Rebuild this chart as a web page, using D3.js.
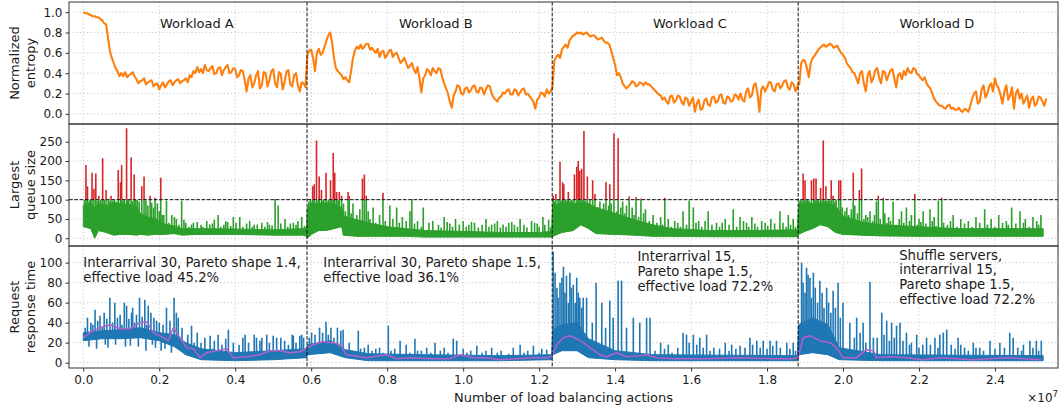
<!DOCTYPE html>
<html><head><meta charset="utf-8">
<script src="https://cdn.jsdelivr.net/npm/d3@7"></script>
<style>
body{margin:0;background:#fff}
text{font-family:"DejaVu Sans",sans-serif;fill:#1a1a1a}
</style></head>
<body><svg id="c" width="1060" height="412"></svg>
<script>
// ---------------- DATA ----------------
const xTicks = [0,0.2,0.4,0.6,0.8,1.0,1.2,1.4,1.6,1.8,2.0,2.2,2.4];
const entTicks = [0,0.2,0.4,0.6,0.8,1.0];
const queueTicks = [0,50,100,150,200,250];
const respTicks = [0,20,40,60,80,100];
const boundaries = [0.589,1.2345,1.882];
const queueThreshold = 100;
const workloadNames = ["Workload A","Workload B","Workload C","Workload D"];
const workloadLabelX = [0.299,0.928,1.597,2.247];
const annotations = [
  ["Interarrival 30, Pareto shape 1.4,","effective load 45.2%"],
  ["Interarrival 30, Pareto shape 1.5,","effective load 36.1%"],
  ["Interarrival 15,","Pareto shape 1.5,","effective load 72.2%"],
  ["Shuffle servers,","interarrival 15,","Pareto shape 1.5,","effective load 72.2%"]
];
const annotationX = [0.0,0.632,1.459,2.148];
const annotationY = [100,100,106,107.7];

// normalized entropy: samples every 0.01e7 actions, plus the value read half-way between samples
const entropyStep = 0.01;
const entropy = [
 1.00,0.99,0.97,0.96,0.95,0.92,0.88,0.62,0.50,0.42,
 0.40,0.41,0.38,0.41,
 0.34,0.32,0.35,0.31,0.33,0.29,0.24,0.31,
 0.29,0.33,0.31,0.34,0.32,0.35,
 0.38,0.42,0.46,
 0.44,0.48,0.42,0.47,0.40,0.46,0.43,0.48,0.41,
 0.44,0.38,0.42,0.22,
 0.38,0.30,0.42,0.28,0.40,0.33,0.44,0.26,0.39,0.31,0.43,0.27,0.40,
 0.22,0.30,
 0.58,0.63,0.42,0.64,0.60,0.72,0.80,0.55,0.42,0.38,0.36,0.31,0.55,0.66,
 0.68,0.66,0.69,0.65,0.60,0.56,0.62,0.58,0.63,0.59,
 0.55,0.52,0.50,0.47,0.44,0.46,0.21,0.38,0.42,0.45,0.40,0.44,0.30,0.20,0.06,
 0.22,0.27,0.19,0.26,0.23,0.28,0.21,0.25,0.24,0.27,
 0.16,0.12,0.17,0.20,0.24,0.19,0.23,0.21,0.25,0.20,0.15,0.05,0.16,0.20,0.24,0.22,
 0.52,0.58,0.63,0.68,0.72,0.77,0.80,
 0.80,0.79,0.78,0.77,0.75,0.74,0.72,0.70,0.62,0.48,0.40,0.30,0.25,
 0.29,0.31,0.28,0.30,0.31,0.29,0.25,0.21,0.18,
 0.16,0.10,0.18,0.13,0.17,0.09,0.15,0.12,0.02,0.14,0.05,
 0.15,0.08,0.17,0.12,0.19,0.10,0.16,0.13,0.18,
 0.20,0.12,0.25,0.18,0.30,0.02,0.27,
 0.26,0.31,0.22,0.30,0.28,0.33,0.24,0.29,0.27,
 0.50,0.52,0.36,0.55,0.60,0.65,0.68,0.67,0.68,0.66,0.63,0.58,0.50,0.45,0.40,
 0.30,0.42,0.22,0.42,0.35,0.45,0.30,0.41,0.38,0.44,0.26,0.40,
 0.42,0.45,0.40,0.44,0.38,0.33,0.30,0.25,0.15,0.10,
 0.08,0.05,0.09,0.06,0.04,0.03,0.05,0.02,
 0.15,0.22,0.12,0.28,0.20,0.30,0.35,
 0.25,0.10,0.28,0.18,0.05,0.24,0.20,
 0.14,0.06,0.17,0.10,0.16,0.08
];
const entropyMid = [
 0.99,0.98,0.96,0.95,0.93,0.89,0.75,0.55,0.45,0.37,
 0.37,0.36,0.39,0.37,
 0.30,0.33,0.29,0.32,0.27,0.30,0.28,0.26,
 0.32,0.28,0.33,0.30,0.33,0.31,
 0.36,0.40,0.41,
 0.40,0.43,0.45,0.39,0.45,0.38,0.46,0.40,0.45,
 0.36,0.43,0.33,0.35,
 0.26,0.38,0.25,0.41,0.27,0.42,0.30,0.41,0.24,0.42,0.29,0.38,0.28,
 0.31,0.26,
 0.62,0.55,0.60,0.58,0.66,0.77,0.70,0.45,0.40,0.34,0.33,0.42,0.62,0.64,
 0.64,0.69,0.63,0.62,0.64,0.61,0.55,0.62,0.56,0.60,
 0.50,0.55,0.45,0.50,0.40,0.35,0.35,0.44,0.38,0.42,0.45,0.36,0.25,0.12,0.18,
 0.28,0.20,0.25,0.21,0.27,0.22,0.26,0.19,0.28,0.20,
 0.14,0.16,0.21,0.23,0.19,0.24,0.18,0.24,0.19,0.17,0.12,0.14,0.21,0.17,0.20,0.26,
 0.56,0.55,0.66,0.65,0.75,0.78,0.79,
 0.78,0.80,0.76,0.77,0.73,0.75,0.70,0.68,0.55,0.38,0.36,0.27,0.27,
 0.32,0.27,0.31,0.28,0.29,0.27,0.23,0.19,0.14,
 0.12,0.17,0.11,0.18,0.12,0.16,0.08,0.16,0.10,0.04,0.13,
 0.09,0.16,0.11,0.18,0.11,0.17,0.12,0.19,0.14,
 0.14,0.22,0.16,0.28,0.20,0.24,0.22,
 0.31,0.24,0.29,0.25,0.32,0.26,0.31,0.22,0.30,
 0.53,0.45,0.50,0.57,0.63,0.67,0.66,0.69,0.65,0.67,0.60,0.55,0.47,0.41,0.35,
 0.40,0.30,0.38,0.31,0.43,0.36,0.42,0.33,0.43,0.35,0.38,0.34,
 0.38,0.41,0.45,0.39,0.35,0.36,0.27,0.20,0.12,0.08,
 0.06,0.08,0.05,0.04,0.06,0.02,0.04,0.08,
 0.20,0.10,0.24,0.16,0.27,0.22,0.28,
 0.18,0.22,0.14,0.26,0.20,0.15,0.10,
 0.18,0.14,0.08,0.17,0.12,0.15
];

// largest queue size: dense band (lower / upper edge) and spikes
const queueBandX = [0,0.02,0.03,0.04,0.06,0.08,0.10,0.12,0.14,0.15,0.17,0.19,0.21,0.24,0.26,0.30,0.40,0.50,0.58,0.588,
 0.590,0.60,0.62,0.64,0.66,0.68,0.685,0.72,0.76,0.80,0.85,0.90,1.00,1.10,1.20,1.233,
 1.236,1.26,1.29,1.31,1.33,1.35,1.40,1.45,1.50,1.55,1.65,1.75,1.88,
 1.883,1.90,1.92,1.94,1.96,1.98,2.00,2.05,2.10,2.20,2.30,2.40,2.527];
const queueBandLo = [30,25,0,20,15,8,10,10,8,10,8,10,10,12,8,10,10,8,8,5,
 0,10,20,20,25,30,8,5,5,5,5,3,3,3,3,3,
 5,15,20,35,25,12,10,8,5,5,4,4,4,
 10,18,25,35,30,15,10,8,6,5,5,5,5];
const queueBandTop = [85,92,80,90,85,92,90,88,82,65,55,50,38,32,25,25,24,22,25,28,
 80,92,90,92,90,80,58,48,38,30,25,20,18,15,15,18,
 85,92,90,92,90,80,65,48,35,25,20,20,22,
 85,92,90,92,90,85,58,42,35,30,25,25,25];
const queueSpikes = [
 [0.003,99],[0.007,190],[0.011,135],[0.016,98],[0.019,99],[0.023,170],[0.028,128],[0.033,168],[0.037,97],[0.041,110],[0.046,99],[0.051,207],
 [0.055,99],[0.060,125],[0.066,99],[0.069,96],[0.073,110],[0.078,98],[0.082,99],[0.087,95],[0.092,177],[0.098,145],[0.101,190],[0.105,97],
 [0.108,99],[0.114,285],[0.117,98],[0.120,99],[0.126,210],[0.130,96],[0.134,165],[0.138,99],[0.142,99],[0.147,95],[0.154,135],[0.160,160],
 [0.165,98],[0.170,85],[0.176,110],[0.180,92],[0.185,80],[0.189,105],[0.195,90],[0.200,70],[0.204,157],[0.208,60],[0.212,60],[0.219,97],
 [0.225,40],[0.233,60],[0.240,55],[0.245,50],[0.252,35],[0.259,97],[0.265,48],[0.27,40],[0.278,30],[0.285,36],[0.29,40],[0.30,42],
 [0.31,35],[0.315,30],[0.325,45],[0.333,36],[0.34,38],[0.345,48],[0.355,60],[0.362,30],[0.37,35],[0.375,44],[0.38,42],[0.388,32],
 [0.395,55],[0.402,40],[0.412,55],[0.42,30],[0.43,38],[0.438,45],[0.445,30],[0.45,35],[0.458,36],[0.47,40],[0.478,30],[0.485,42],
 [0.49,35],[0.497,33],[0.505,102],[0.513,85],[0.52,38],[0.531,50],[0.538,30],[0.545,38],[0.553,40],[0.56,35],[0.565,45],[0.575,55],[0.582,32],
 [0.594,95],[0.598,99],[0.604,135],[0.608,140],[0.614,253],[0.618,98],[0.621,160],[0.627,125],[0.630,97],[0.633,99],[0.639,170],[0.645,99],
 [0.648,96],[0.651,150],[0.655,99],[0.658,221],[0.662,170],[0.667,120],[0.671,98],[0.674,120],[0.680,110],[0.685,90],[0.69,70],[0.697,120],
 [0.700,110],[0.705,65],[0.71,90],[0.72,60],[0.728,75],[0.735,155],[0.740,165],[0.745,110],[0.75,70],[0.755,50],[0.763,80],[0.77,40],
 [0.78,60],[0.789,118],[0.795,45],[0.807,85],[0.815,50],[0.825,80],[0.832,40],[0.84,55],[0.85,45],[0.86,70],[0.865,102],[0.872,38],
 [0.88,45],[0.89,30],[0.895,80],[0.91,40],[0.92,45],[0.935,35],[0.942,28],[0.95,55],[0.958,42],[0.965,38],[0.972,30],[0.98,50],[0.99,36],
 [1.0,45],[1.008,30],[1.015,35],[1.022,42],[1.03,40],[1.04,28],[1.05,35],[1.06,50],[1.068,30],[1.075,35],[1.083,38],[1.09,45],[1.098,28],
 [1.105,36],[1.113,30],[1.12,40],[1.128,42],[1.135,35],[1.143,30],[1.15,50],[1.16,35],[1.168,28],[1.18,45],[1.188,40],[1.195,38],[1.2,30],
 [1.21,55],[1.215,35],[1.225,48],[1.23,28],
 [1.237,110],[1.241,96],[1.244,115],[1.250,99],[1.255,198],[1.258,97],[1.262,145],[1.265,140],[1.270,99],[1.274,98],[1.277,120],[1.281,97],
 [1.285,99],[1.289,98],[1.293,165],[1.299,185],[1.303,200],[1.307,175],[1.312,180],[1.315,98],[1.318,278],[1.322,97],[1.327,160],[1.334,99],
 [1.341,150],[1.347,115],[1.355,80],[1.36,95],[1.37,90],[1.376,145],[1.383,85],[1.386,140],[1.39,90],[1.397,272],[1.405,70],[1.408,259],
 [1.415,80],[1.42,95],[1.425,65],[1.43,85],[1.437,108],[1.445,80],[1.45,60],[1.455,107],[1.462,55],[1.468,103],[1.475,65],[1.48,75],
 [1.49,45],[1.50,60],[1.51,40],[1.52,55],[1.525,35],[1.531,105],[1.54,50],[1.548,30],[1.557,45],[1.565,40],[1.572,30],[1.579,70],
 [1.588,35],[1.595,98],[1.606,80],[1.613,40],[1.62,45],[1.628,30],[1.637,45],[1.645,70],[1.655,35],[1.667,40],[1.675,30],[1.682,40],
 [1.69,50],[1.7,35],[1.711,75],[1.72,30],[1.729,55],[1.738,45],[1.746,40],[1.752,30],[1.76,55],[1.768,38],[1.775,30],[1.786,45],
 [1.795,40],[1.802,32],[1.81,50],[1.82,38],[1.834,70],[1.842,40],[1.85,30],[1.856,60],[1.862,35],[1.869,50],[1.875,30],
 [1.885,95],[1.888,99],[1.892,97],[1.895,168],[1.900,150],[1.904,98],[1.907,99],[1.911,97],[1.917,150],[1.923,155],[1.926,98],[1.929,155],
 [1.932,97],[1.935,99],[1.941,130],[1.944,98],[1.948,253],[1.952,97],[1.955,135],[1.958,96],[1.962,99],[1.965,97],[1.969,150],[1.974,110],
 [1.978,95],[1.982,99],[1.989,150],[1.994,150],[1.998,80],[2.005,70],[2.01,80],[2.015,60],[2.022,75],[2.027,170],[2.031,85],[2.038,65],
 [2.043,125],[2.049,181],[2.055,50],[2.06,60],[2.065,55],[2.071,70],[2.078,45],[2.083,60],[2.088,95],[2.093,110],[2.098,50],[2.106,105],
 [2.11,65],[2.115,40],[2.12,55],[2.125,45],[2.132,95],[2.14,35],[2.148,50],[2.154,70],[2.16,40],[2.167,80],[2.175,45],[2.18,60],
 [2.189,115],[2.195,35],[2.2,50],[2.205,42],[2.211,70],[2.218,38],[2.229,75],[2.235,45],[2.24,55],[2.245,32],[2.251,98],[2.260,105],
 [2.265,40],[2.275,35],[2.283,45],[2.29,60],[2.30,30],[2.31,50],[2.32,38],[2.33,45],[2.34,30],[2.35,55],[2.36,40],[2.373,75],
 [2.38,35],[2.39,50],[2.40,30],[2.41,60],[2.42,40],[2.43,45],[2.435,35],[2.444,80],[2.455,38],[2.466,70],[2.475,40],[2.48,50],
 [2.49,30],[2.5,55],[2.51,45],[2.515,35],[2.521,60]
];

// request response time: dense band, spikes and smoothed curve
const respBandX = [0,0.05,0.10,0.15,0.20,0.24,0.27,0.31,0.40,0.50,0.588,
 0.59,0.65,0.69,0.75,0.90,1.10,1.233,
 1.236,1.26,1.30,1.33,1.40,1.50,1.88,
 1.883,1.92,1.96,1.99,2.10,2.527];
const respBandLo = [22,24,24,25,22,16,8,3,2,3,5, 8,10,5,2,2,2,3, 8,12,12,5,3,2,2, 8,10,8,3,2,2];
const respBandTop = [30,32,33,35,30,28,20,14,10,12,14, 18,22,13,9,8,7,8, 33,38,40,24,12,8,7, 38,45,38,15,8,7];
const respSpikes = [
 [0.005,35],[0.011,45],[0.015,16],[0.02,40],[0.025,38],[0.031,53],[0.035,14],[0.038,42],[0.044,47],[0.05,36],[0.055,50],[0.058,18],
 [0.062,44],[0.065,15],[0.07,65],[0.077,40],[0.083,60],[0.085,18],[0.09,45],[0.097,48],[0.102,38],[0.108,60],[0.111,16],[0.114,57],
 [0.12,44],[0.124,17],[0.127,50],[0.13,55],[0.135,40],[0.14,48],[0.145,16],[0.148,65],[0.155,46],[0.162,63],[0.165,12],[0.167,38],
 [0.171,57],[0.178,50],[0.182,18],[0.186,45],[0.19,15],[0.193,42],[0.2,40],[0.205,12],[0.21,38],[0.215,14],[0.219,55],[0.228,42],
 [0.232,10],[0.239,65],[0.245,50],[0.25,45],[0.26,35],[0.268,8],[0.275,28],[0.285,37],[0.292,20],[0.30,30],[0.31,20],[0.32,25],
 [0.334,27],[0.34,14],[0.345,22],[0.355,28],[0.365,18],[0.375,24],[0.382,33],[0.395,20],[0.41,18],[0.42,25],[0.426,28],[0.435,20],
 [0.45,28],[0.456,25],[0.465,22],[0.47,25],[0.483,28],[0.49,20],[0.50,27],[0.509,25],[0.52,25],[0.53,22],[0.54,18],[0.55,28],
 [0.553,27],[0.56,20],[0.57,27],[0.575,28],[0.58,25],
 [0.595,25],[0.601,30],[0.61,28],[0.622,35],[0.63,30],[0.639,41],[0.645,28],[0.652,35],[0.66,25],[0.669,35],[0.678,32],[0.684,33],
 [0.70,20],[0.71,12],[0.724,32],[0.73,14],[0.74,15],[0.75,18],[0.76,12],[0.77,14],[0.78,15],[0.79,10],[0.803,37],[0.81,12],[0.82,14],
 [0.834,22],[0.85,18],[0.86,10],[0.873,24],[0.88,12],[0.89,12],[0.904,15],[0.915,10],[0.926,20],[0.94,12],[0.95,15],[0.96,10],
 [0.974,24],[0.983,22],[1.0,14],[1.01,10],[1.02,12],[1.036,17],[1.05,10],[1.06,12],[1.075,15],[1.09,10],[1.1,12],[1.12,9],[1.132,15],
 [1.15,18],[1.16,10],[1.17,12],[1.185,17],[1.2,10],[1.207,14],[1.22,13],
 [1.237,111],[1.242,90],[1.247,75],[1.25,65],[1.255,80],[1.26,85],[1.264,96],[1.268,70],[1.272,87],[1.277,60],[1.281,90],[1.285,75],
 [1.29,78],[1.295,60],[1.299,85],[1.303,70],[1.307,65],[1.312,55],[1.316,65],[1.325,65],[1.34,40],[1.35,80],[1.365,60],[1.375,35],
 [1.386,62],[1.395,45],[1.408,82],[1.417,82],[1.43,35],[1.448,45],[1.465,40],[1.483,45],[1.492,45],[1.505,12],[1.52,20],[1.53,14],
 [1.54,18],[1.55,10],[1.565,15],[1.579,30],[1.588,28],[1.595,20],[1.606,28],[1.615,18],[1.623,25],[1.632,15],[1.641,28],[1.65,12],
 [1.66,15],[1.675,14],[1.69,20],[1.7,12],[1.707,18],[1.718,14],[1.729,17],[1.742,15],[1.755,25],[1.762,18],[1.773,22],[1.782,15],
 [1.79,22],[1.8,14],[1.808,22],[1.815,17],[1.825,22],[1.835,15],[1.852,20],[1.86,14],[1.869,20],[1.875,12],
 [1.891,100],[1.895,80],[1.9,70],[1.904,95],[1.908,88],[1.913,85],[1.917,65],[1.922,90],[1.927,75],[1.933,60],[1.939,82],[1.945,70],
 [1.95,55],[1.957,75],[1.962,60],[1.968,50],[1.974,72],[1.98,55],[1.987,80],[1.993,45],[2.0,60],[2.018,40],[2.03,25],[2.036,45],
 [2.045,30],[2.053,40],[2.06,20],[2.071,81],[2.08,25],[2.09,25],[2.102,50],[2.108,28],[2.115,42],[2.122,22],[2.128,40],[2.135,25],
 [2.141,37],[2.15,40],[2.158,22],[2.167,30],[2.175,18],[2.18,20],[2.194,28],[2.2,15],[2.21,18],[2.22,25],[2.23,18],[2.242,25],
 [2.25,15],[2.255,28],[2.264,30],[2.273,33],[2.285,18],[2.295,14],[2.303,25],[2.31,18],[2.32,15],[2.33,12],[2.343,20],[2.35,15],
 [2.36,15],[2.37,12],[2.387,22],[2.4,14],[2.413,20],[2.425,15],[2.439,30],[2.448,25],[2.46,15],[2.47,12],[2.475,18],[2.492,22],
 [2.5,15],[2.509,22],[2.515,12],[2.522,22]
];
const respSmooth = [
 [0,25],[0.018,30],[0.044,35],[0.07,38],[0.097,34],[0.123,34],[0.149,40],[0.167,41],[0.184,30],[0.211,25],[0.224,22],[0.237,35],
 [0.255,25],[0.272,15],[0.29,14],[0.307,5],[0.325,10],[0.351,12],[0.377,14],[0.395,5],[0.43,6],[0.465,8],[0.491,12],[0.518,12],
 [0.544,10],[0.57,11],[0.588,14],[0.605,18],[0.632,21],[0.658,20],[0.676,18],[0.693,8],[0.711,7],[0.746,5],[0.781,7],[0.799,8],
 [0.825,4],[0.86,5],[0.921,4],[0.965,4],[0.992,8],[1.027,5],[1.062,5],[1.097,3],[1.141,4],[1.185,5],[1.224,5],[1.2345,7],
 [1.246,18],[1.264,25],[1.281,27],[1.299,24],[1.316,20],[1.334,15],[1.36,8],[1.378,6],[1.404,10],[1.43,6],[1.465,7],[1.483,8],
 [1.509,5],[1.553,4],[1.641,4],[1.729,5],[1.816,4],[1.869,4],[1.882,5],[1.895,25],[1.913,27],[1.939,22],[1.966,20],[1.983,15],
 [2.0,5],[2.036,5],[2.062,13],[2.08,12],[2.088,5],[2.123,6],[2.167,5],[2.211,3],[2.255,5],[2.299,4],[2.343,3],[2.431,5],[2.521,3]
];

// ---------------- CHART ----------------
const svg = d3.select("#c");
const L = 69, R = 1058;
const P = [{t:2,b:124},{t:124,b:246},{t:246,b:368}];
const x = d3.scaleLinear().domain([-0.0376,2.566]).range([L,R]);
const yE = d3.scaleLinear().domain([-0.1,1.1]).range([P[0].b,P[0].t]);
const yQ = d3.scaleLinear().domain([-20,296]).range([P[1].b,P[1].t]);
const yR = d3.scaleLinear().domain([-5.3,116.7]).range([P[2].b,P[2].t]);
const scales = [yE,yQ,yR];
const yTicks = [entTicks,queueTicks,respTicks];
const yFmt = [d3.format(".1f"), d3.format("d"), d3.format("d")];
const yLabels = [["Normalized","entropy"],["Largest","queue size"],["Request","response time"]];

const defs = svg.append("defs");
P.forEach((p,i)=>{
  defs.append("clipPath").attr("id","clip"+i).append("rect")
    .attr("x",L).attr("y",p.t).attr("width",R-L).attr("height",p.b-p.t);
});
defs.append("clipPath").attr("id","clipHi").append("rect")
  .attr("x",L).attr("y",P[1].t).attr("width",R-L).attr("height",yQ(queueThreshold)-P[1].t);
defs.append("clipPath").attr("id","clipLo").append("rect")
  .attr("x",L).attr("y",yQ(queueThreshold)).attr("width",R-L).attr("height",P[1].b-yQ(queueThreshold));

// grids
P.forEach((p,i)=>{
  const g = svg.append("g").attr("clip-path","url(#clip"+i+")");
  g.selectAll(null).data(xTicks).join("line")
    .attr("x1",d=>x(d)).attr("x2",d=>x(d)).attr("y1",p.t).attr("y2",p.b)
    .attr("stroke","#c4c4c4").attr("stroke-width",0.9).attr("stroke-dasharray","1.2,2.4");
  g.selectAll(null).data(yTicks[i]).join("line")
    .attr("x1",L).attr("x2",R).attr("y1",d=>scales[i](d)).attr("y2",d=>scales[i](d))
    .attr("stroke","#c4c4c4").attr("stroke-width",0.9).attr("stroke-dasharray","1.2,2.4");
});

// entropy line (samples interleaved with the half-step readings)
const entPts = [];
entropy.forEach((v,i)=>{
  entPts.push([i*entropyStep, v]);
  if (i < entropyMid.length) entPts.push([(i+0.5)*entropyStep, entropyMid[i]]);
});
svg.append("g").attr("clip-path","url(#clip0)").append("path")
  .datum(entPts)
  .attr("d", d3.line().x(d=>x(d[0])).y(d=>yE(d[1])))
  .attr("fill","none").attr("stroke","#ff7f0e").attr("stroke-width",2.1).attr("stroke-linejoin","round");

// queue
function bandArea(bx, lo, top, ys){
  return d3.area().x((d,i)=>x(bx[i])).y0((d,i)=>ys(lo[i])).y1((d,i)=>ys(top[i]))(bx);
}
const qLoAt = d3.scaleLinear().domain(queueBandX).range(queueBandLo);
const rLoAt = d3.scaleLinear().domain(respBandX).range(respBandLo);
function spikes(g, data, base, ys, color){
  g.selectAll(null).data(data).join("line")
    .attr("x1",d=>x(d[0])).attr("x2",d=>x(d[0]))
    .attr("y1",d=>ys(base(d[0]))).attr("y2",d=>ys(d[1]))
    .attr("stroke",color).attr("stroke-width",1.6);
}
const qg = svg.append("g").attr("clip-path","url(#clip1)");
const qLow = qg.append("g").attr("clip-path","url(#clipLo)");
qLow.append("path").attr("d",bandArea(queueBandX,queueBandLo,queueBandTop,yQ))
  .attr("fill","#2ca02c").attr("stroke","#2ca02c").attr("stroke-width",1);
spikes(qLow, queueSpikes, qLoAt, yQ, "#2ca02c");
const qHigh = qg.append("g").attr("clip-path","url(#clipHi)");
spikes(qHigh, queueSpikes, qLoAt, yQ, "#d62728");

// response time
const rg = svg.append("g").attr("clip-path","url(#clip2)");
rg.append("path").attr("d",bandArea(respBandX,respBandLo,respBandTop,yR))
  .attr("fill","#1f77b4").attr("stroke","#1f77b4").attr("stroke-width",1);
spikes(rg, respSpikes, rLoAt, yR, "#1f77b4");
rg.append("path").datum(respSmooth)
  .attr("d", d3.line().x(d=>x(d[0])).y(d=>yR(d[1])))
  .attr("fill","none").attr("stroke","#b35fcc").attr("stroke-width",1.5).attr("stroke-linejoin","round");

// dashed reference lines
P.forEach((p,i)=>{
  svg.append("g").selectAll(null).data(boundaries).join("line")
    .attr("x1",d=>x(d)).attr("x2",d=>x(d)).attr("y1",p.t).attr("y2",p.b)
    .attr("stroke","#111").attr("stroke-width",1).attr("stroke-dasharray","3.7,1.6");
});
svg.append("line").attr("x1",L).attr("x2",R).attr("y1",yQ(queueThreshold)).attr("y2",yQ(queueThreshold))
  .attr("stroke","#111").attr("stroke-width",1).attr("stroke-dasharray","3.7,1.6");

// frames
P.forEach(p=>{
  svg.append("rect").attr("x",L).attr("y",p.t).attr("width",R-L).attr("height",p.b-p.t)
    .attr("fill","none").attr("stroke","#333").attr("stroke-width",1);
});

// y axes
P.forEach((p,i)=>{
  const ax = svg.append("g").attr("transform",`translate(${L},0)`)
    .call(d3.axisLeft(scales[i]).tickValues(yTicks[i]).tickFormat(yFmt[i]).tickSize(3.5).tickPadding(3));
  ax.select(".domain").remove();
  ax.selectAll("line").attr("stroke","#333");
  ax.selectAll("text").attr("font-size",12).attr("font-family","DejaVu Sans").attr("fill","#1a1a1a");
  const cy = (p.t+p.b)/2;
  yLabels[i].forEach((s,j)=>{
    svg.append("text").attr("transform",`translate(${19+j*15.5},${cy}) rotate(-90)`)
      .attr("text-anchor","middle").attr("font-size",13).text(s);
  });
});

// x axis
const xa = svg.append("g").attr("transform",`translate(0,${P[2].b})`)
  .call(d3.axisBottom(x).tickValues(xTicks).tickFormat(d3.format(".1f")).tickSize(3.5).tickPadding(4));
xa.select(".domain").remove();
xa.selectAll("line").attr("stroke","#333");
xa.selectAll("text").attr("font-size",12).attr("font-family","DejaVu Sans").attr("fill","#1a1a1a");
svg.append("text").attr("x",(L+R)/2).attr("y",402).attr("text-anchor","middle").attr("font-size",13)
  .text("Number of load balancing actions");
const mult = svg.append("text").attr("x",R).attr("y",402).attr("text-anchor","end").attr("font-size",12);
mult.append("tspan").text("×10");
mult.append("tspan").attr("dy",-5).attr("font-size",8.5).text("7");

// workload labels
svg.selectAll(null).data(workloadNames).join("text")
  .attr("x",(d,i)=>x(workloadLabelX[i])).attr("y",27.5).attr("text-anchor","middle").attr("font-size",13)
  .text(d=>d);

// annotations
annotations.forEach((lines,i)=>{
  lines.forEach((s,j)=>{
    svg.append("text").attr("x",x(annotationX[i])).attr("y",yR(annotationY[i])+4.5+j*14.7)
      .attr("font-size",13.2).text(s);
  });
});
</script></body></html>
